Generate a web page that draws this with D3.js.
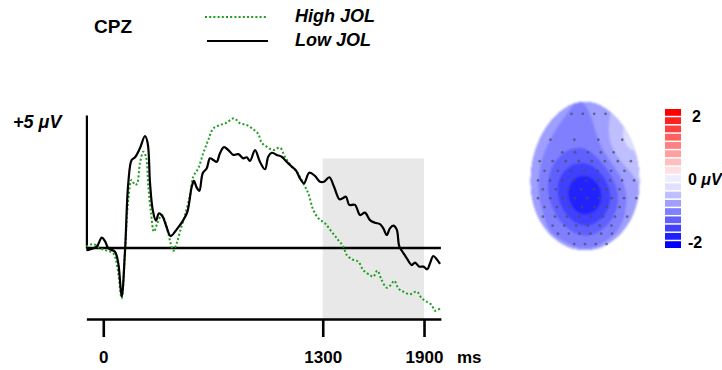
<!DOCTYPE html>
<html><head><meta charset="utf-8">
<script src="https://cdn.jsdelivr.net/npm/d3@7/dist/d3.min.js"></script>
<style>
body{margin:0;background:#fff}
svg{display:block}
text{font-family:"Liberation Sans",Arial,Helvetica,sans-serif;font-weight:bold;fill:#000}
</style>
</head><body>
<svg id="chart" width="722" height="370"></svg>
<script>
// ---------- data ----------
const channelName = "CPZ";
const seriesNames = ["High JOL", "Low JOL"];

const lowTime = [-100,-79,-39,-9,10,30,69,89,109,129,148,168,188,217,247,263,277,293,312,330,352,371,399,435,474,498,524,537,553,569,589,613,632,652,672,691,715,741,770,800,829,850,869,899,928,958,977,998,1027,1057,1086,1116,1142,1165,1189,1220,1254,1284,1307,1339,1367,1399,1418,1438,1457,1491,1521,1550,1580,1609,1639,1659,1679,1698,1718,1738,1754,1777,1801,1827,1847,1872,1896,1919,1935,1955,1975,1995];
const lowValue = [-0.08,-0.05,0.05,0.39,0.26,-0.01,-0.14,-0.58,-1.83,-0.08,2.43,3.31,3.41,3.75,4.21,3.94,2.43,1.43,1.03,1.30,1.18,0.86,0.45,0.70,1.05,1.36,2.30,2.52,2.28,2.15,2.81,3.00,3.37,3.31,3.24,3.56,3.79,3.68,3.50,3.53,3.37,3.41,3.27,3.68,3.24,2.96,3.43,3.58,3.50,3.43,3.24,3.06,2.91,2.62,2.43,2.83,2.71,2.49,2.49,2.66,2.30,1.83,1.87,1.93,1.62,1.62,1.24,1.33,1.05,0.95,0.90,0.74,0.49,0.74,0.84,0.70,0.05,-0.18,-0.42,-0.64,-0.55,-0.70,-0.70,-0.80,-0.58,-0.30,-0.42,-0.60];

const highTime = [-100,-59,-20,20,59,83,109,129,148,168,188,201,217,237,253,267,283,300,320,346,366,385,399,415,435,454,484,514,533,563,592,622,652,691,731,774,810,850,889,918,938,968,1007,1047,1076,1116,1146,1185,1214,1244,1274,1313,1353,1392,1422,1442,1472,1511,1540,1580,1600,1623,1649,1679,1703,1724,1748,1777,1817,1857,1886,1916,1945,1965,1995];
const highValue = [0.05,0.15,-0.01,-0.10,-0.20,-0.70,-1.89,-0.08,1.80,2.56,2.37,2.43,3.18,3.62,3.43,2.30,1.30,0.61,0.93,1.24,0.99,0.55,0.18,-0.10,0.18,0.61,1.24,1.99,2.68,3.00,3.56,4.06,4.50,4.62,4.71,4.88,4.69,4.62,4.46,4.29,3.96,3.81,3.68,3.77,3.43,3.06,2.87,2.43,2.06,1.43,1.12,0.93,0.61,0.30,0.05,-0.26,-0.42,-0.52,-0.83,-1.02,-1.08,-0.85,-1.20,-1.49,-1.39,-1.23,-1.52,-1.64,-1.74,-1.64,-1.89,-2.02,-2.14,-2.36,-2.27];

const xTicks = [0, 1300, 1900];
const xTickLabels = ["0", "1300", "1900"];
const xUnit = "ms";
const yLabel = "+5 \u03BCV";
const shadeWindow = [1300, 1900];
const shadeTop = 3.37;        // µV
const xAxisLevel = -2.67;     // µV, where the time axis sits

// topographic map: estimated scalp values (normalized head coords u: left→right, v: top→bottom)
const topoU =     [0.05, -0.25, 0.3,  0.05, 0.05, -0.55, 0.6,  -0.5, 0.4,  0,    -0.3, 0.15, 0,    0.55, 0.75, 0.85, -0.5, 0.45, 0,    -1,   1,    -0.85, -0.85, 0.85, -0.45, 0.45, 0,    -0.45, 0.3];
const topoV =     [0.3,  0.25,  0.25, 0.05, 0.5,  0.15,  0.15, -0.2, -0.2, -0.3, -0.6, -0.65,-0.85,-0.6, -0.35,-0.05, 0.6,  0.6,  0.78, 0,    0.1,  -0.5,  0.5,   0.5,  0.92,  0.92, 1.05, -0.92, -0.97];
const topoValue = [-2.4, -1.85, -1.85,-1.65,-1.7, -1.4,  -1.3, -1.15,-0.95,-1.15,-1.0, -1.0, -1.0, -0.35,-0.05,-0.5, -1.15,-1.05,-1.2, -0.55,-0.55,-0.65, -0.55, -0.55,-0.6,  -0.55, -0.5, -0.7,  -0.6];

// electrode rows: [v, count, uMin, uMax]
const electrodeRows = [[-0.84,4,-0.25,0.38],[-0.49,4,-0.64,0.69],[-0.32,5,-0.42,0.53],[-0.20,8,-0.84,0.85],[-0.07,7,-0.75,0.73],[0.06,9,-0.87,0.91],[0.18,7,-0.78,0.64],[0.30,9,-0.87,0.95],[0.42,7,-0.75,0.64],[0.55,8,-0.78,0.78],[0.67,6,-0.6,0.49],[0.78,6,-0.5,0.5],[0.92,4,-0.2,0.4]];

const legendLevels = d3.range(8, -9, -1).map(k => k * 0.25);
const legendLabelValues = [2, 0, -2];
const legendLabels = ["2", "0 \u03BCV", "-2"];

// ---------- chart ----------
const svg = d3.select("#chart");
const x = d3.scaleLinear([-100, 2000], [86.4, 440.9]);
const y = d3.scaleLinear([0, 5], [248, 115]);

svg.append("rect")
  .attr("x", x(shadeWindow[0])).attr("width", x(shadeWindow[1]) - x(shadeWindow[0]))
  .attr("y", y(shadeTop)).attr("height", y(xAxisLevel) - y(shadeTop))
  .attr("fill", "#e8e8e8");

const xAxis = svg.append("g").attr("transform", `translate(0,${y(xAxisLevel)})`)
  .call(d3.axisBottom(x).tickValues(xTicks).tickFormat((d, i) => xTickLabels[i])
    .tickSize(18).tickSizeOuter(0).tickPadding(14));
xAxis.select(".domain").attr("stroke", "#000").attr("stroke-width", 2.6);
xAxis.selectAll(".tick line").attr("stroke", "#000").attr("stroke-width", 2.6);
xAxis.selectAll(".tick text").attr("font-size", 17).attr("font-family", null);
svg.append("text").attr("x", 457).attr("y", 363).attr("font-size", 17).text(xUnit);

const yAxis = svg.append("g").attr("transform", `translate(${x(-100)},0)`)
  .call(d3.axisLeft(y).tickValues([]).tickSizeOuter(0));
yAxis.select(".domain").attr("stroke", "#000").attr("stroke-width", 2.2);
svg.append("text").attr("x", 13).attr("y", 128).attr("font-size", 18)
  .attr("font-style", "italic").text(yLabel);

svg.append("line").attr("x1", x(-100)).attr("x2", x(2000))
  .attr("y1", y(0)).attr("y2", y(0)).attr("stroke", "#000").attr("stroke-width", 2.6);

const line = d3.line().x(d => x(d[0])).y(d => y(d[1])).curve(d3.curveCatmullRom.alpha(0.5));
const highData = highTime.map((t, i) => [t, highValue[i]]);
const lowData = lowTime.map((t, i) => [t, lowValue[i]]);
const green = "#1e9e1e";

svg.append("path").datum(highData).attr("d", line).attr("fill", "none")
  .attr("stroke", green).attr("stroke-width", 2).attr("stroke-dasharray", "2,2.2");
svg.append("path").datum(lowData).attr("d", line).attr("fill", "none")
  .attr("stroke", "#000").attr("stroke-width", 2.2).attr("stroke-linejoin", "round");

// header
svg.append("text").attr("x", 94).attr("y", 33).attr("font-size", 19).text(channelName);
svg.append("line").attr("x1", 205).attr("x2", 268).attr("y1", 17).attr("y2", 17)
  .attr("stroke", green).attr("stroke-width", 2).attr("stroke-dasharray", "2,2.2");
svg.append("line").attr("x1", 207).attr("x2", 268).attr("y1", 41).attr("y2", 41)
  .attr("stroke", "#000").attr("stroke-width", 2.2);
svg.append("text").attr("x", 295).attr("y", 22).attr("font-size", 18).attr("font-style", "italic").text(seriesNames[0]);
svg.append("text").attr("x", 295).attr("y", 46).attr("font-size", 18).attr("font-style", "italic").text(seriesNames[1]);

// ---------- topographic map ----------
const color = v => v > 0 ? d3.interpolateRgb("#ffffff", "#ff0000")(v / 2)
                         : d3.interpolateRgb("#ffffff", "#0000ff")(Math.max(0.07, -v / 2));
const X0 = 526, Y0 = 100, nx = 116, ny = 154;
const hx = d3.scaleLinear([-1, 1], [531, 639]);
const hy = d3.scaleLinear([-1, 1], [102, 250]);
const sigma2 = 2 * 0.26 * 0.26;
const grid = new Array(nx * ny);
for (let j = 0; j < ny; j++) {
  for (let i = 0; i < nx; i++) {
    const u = hx.invert(X0 + i + 0.5), v = hy.invert(Y0 + j + 0.5);
    let ws = 0, s = 0;
    for (let k = 0; k < topoU.length; k++) {
      const d2 = (u - topoU[k]) ** 2 + (v - topoV[k]) ** 2;
      const w = Math.exp(-d2 / sigma2);
      ws += w; s += w * topoValue[k];
    }
    grid[j * nx + i] = s / ws;
  }
}
const thresholds = legendLevels.slice().reverse().map(l => l - 0.125);
const contours = d3.contours().size([nx, ny]).thresholds(thresholds)(grid);

// egg-shaped head outline
const headPts = d3.range(0, 2 * Math.PI, Math.PI / 60).map(a => {
  const f = 1 + 0.07 * Math.sin(a) - 0.05 * Math.sin(a) ** 4;
  return [hx(Math.cos(a) * f), hy(Math.sin(a))];
});
const headPath = d3.line().curve(d3.curveLinearClosed)(headPts);

const defs = svg.append("defs");
defs.append("clipPath").attr("id", "head").append("path").attr("d", headPath);
defs.append("filter").attr("id", "soft").attr("x", "-10%").attr("y", "-10%").attr("width", "120%").attr("height", "120%")
  .append("feGaussianBlur").attr("stdDeviation", 1);
const path = d3.geoPath(d3.geoIdentity().translate([X0, Y0]));
const topo = svg.append("g").attr("filter", "url(#soft)");
topo.append("g").attr("clip-path", "url(#head)")
  .selectAll("path").data(contours).join("path")
  .attr("d", path).attr("fill", d => color(d.value + 0.125));

const electrodes = electrodeRows.flatMap(([v, n, a, b]) =>
  d3.range(n).map(k => [a + (b - a) * k / (n - 1), v]));
svg.append("g").selectAll("circle").data(electrodes).join("circle")
  .attr("cx", d => hx(d[0])).attr("cy", d => hy(d[1])).attr("r", 1.4)
  .attr("fill", "#4a4a66").attr("opacity", 0.7);

// colour legend
const band = d3.scaleBand(legendLevels, [109, 248]).paddingInner(0.18);
svg.append("g").selectAll("rect").data(legendLevels).join("rect")
  .attr("x", 665).attr("width", 16).attr("y", d => band(d)).attr("height", band.bandwidth())
  .attr("fill", d => color(d));
const ly = d3.scaleLinear([2, -2], [116, 242.5]);
svg.append("g").selectAll("text").data(legendLabelValues).join("text")
  .attr("x", (d, i) => i === 0 ? 692 : 688).attr("y", d => ly(d)).attr("dy", "0.36em")
  .attr("font-size", 16)
  .each(function (d, i) {
    const t = d3.select(this);
    const parts = legendLabels[i].split(" ");
    t.append("tspan").text(parts[0]);
    if (parts[1]) t.append("tspan").attr("font-style", "italic").text(" " + parts[1]);
  });
</script>
</body></html>
